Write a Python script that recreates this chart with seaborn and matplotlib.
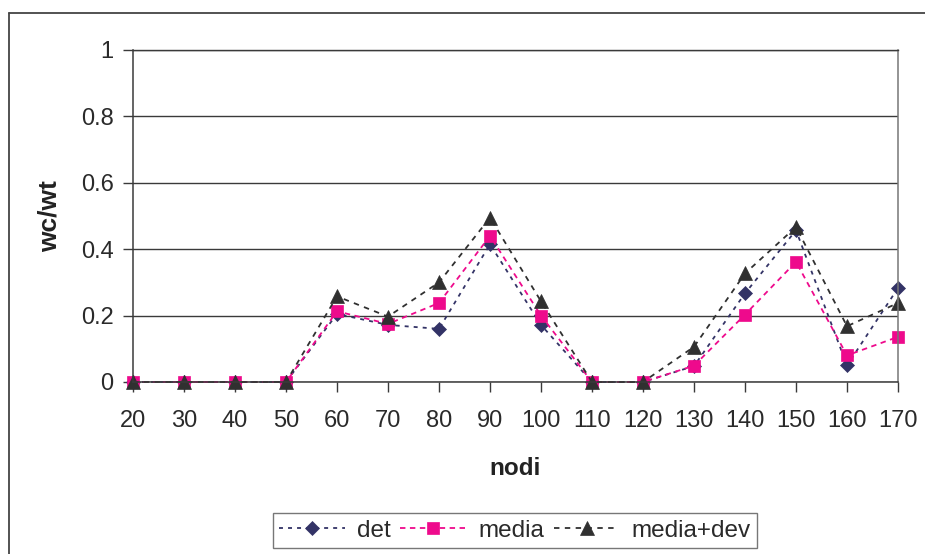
import matplotlib
matplotlib.use("Agg")
import matplotlib.pyplot as plt
from matplotlib.lines import Line2D
import seaborn as sns
import pandas as pd

# Data
nodi = [20, 30, 40, 50, 60, 70, 80, 90, 100, 110, 120, 130, 140, 150, 160, 170]
det = [0, 0, 0, 0, 0.205, 0.172, 0.160, 0.415, 0.172, 0, 0, 0.048, 0.267, 0.457, 0.050, 0.283]
media = [0, 0, 0, 0, 0.213, 0.175, 0.238, 0.440, 0.200, 0, 0, 0.049, 0.203, 0.362, 0.080, 0.136]
media_dev = [0, 0, 0, 0, 0.258, 0.197, 0.300, 0.495, 0.243, 0, 0, 0.106, 0.327, 0.467, 0.168, 0.238]
series_names = ["det", "media", "media+dev"]
y_ticks = [0, 0.2, 0.4, 0.6, 0.8, 1]
y_tick_labels = ["0", "0.2", "0.4", "0.6", "0.8", "1"]

sns.set_theme(style="white")
plt.rcParams["font.family"] = ["Liberation Sans", "DejaVu Sans"]

fig = plt.figure(figsize=(9.25, 5.54), dpi=100)
ax = fig.add_axes([133 / 925, 1 - 382 / 554, 765 / 925, 332 / 554])

styles = {
    "det": dict(color="#333366", marker="D", markersize=7.5, dashes=(2.2, 2.8)),
    "media": dict(color="#EE0A8C", marker="s", markersize=8, dashes=(3, 2.5)),
    "media+dev": dict(color="#303030", marker="^", markersize=9.5, dashes=(3, 3)),
}

for name, vals in zip(series_names, [det, media, media_dev]):
    df = pd.DataFrame({"nodi": nodi, "wc/wt": vals})
    st = styles[name]
    sns.lineplot(data=df, x="nodi", y="wc/wt", ax=ax, color=st["color"],
                 marker=st["marker"], markersize=st["markersize"],
                 markeredgecolor=st["color"], markeredgewidth=0.5,
                 linewidth=1.3, dashes=st["dashes"], label=name, clip_on=False)

ax.set_xlim(20, 170)
ax.set_ylim(0, 1)
ax.set_xticks(nodi)
ax.set_xticklabels([str(v) for v in nodi])
ax.set_yticks(y_ticks)
ax.set_yticklabels(y_tick_labels)

ax.yaxis.grid(True, color="#3a3a3a", linewidth=1.0)
ax.xaxis.grid(False)
ax.set_axisbelow(True)

for side in ["left", "bottom"]:
    ax.spines[side].set_color("#3a3a3a")
    ax.spines[side].set_linewidth(1.1)
ax.spines["right"].set_color("#777777")
ax.spines["right"].set_linewidth(1.1)
ax.spines["top"].set_color("#3a3a3a")
ax.spines["top"].set_linewidth(1.0)

ax.tick_params(axis="both", which="both", direction="out", length=7, width=1,
               color="#3a3a3a", labelsize=17, labelcolor="#2a2a2a",
               left=True, bottom=True)
ax.tick_params(axis="y", pad=7)
ax.tick_params(axis="x", pad=13)

ax.set_xlabel("nodi", fontsize=17.5, fontweight="bold", color="#222222")
ax.set_ylabel("wc/wt", fontsize=19, fontweight="bold", color="#222222")
ax.xaxis.set_label_coords(0.5, -0.225)
ax.yaxis.set_label_coords(-0.093, 0.5)

handles, labels = ax.get_legend_handles_labels()
ax.get_legend().remove()
leg = fig.legend(handles, labels, loc="center", bbox_to_anchor=(515 / 925, 1 - 530.5 / 554),
                 ncol=3, fontsize=17.5, frameon=True, fancybox=False,
                 handlelength=2.7, handletextpad=0.5, columnspacing=0.4,
                 borderpad=0.25, borderaxespad=0)
leg.get_frame().set_edgecolor("#555555")
leg.get_frame().set_linewidth(1.0)
for t in leg.get_texts():
    t.set_color("#2a2a2a")

# chart area frame (left and top edges)
fig.add_artist(Line2D([9 / 925, 9 / 925], [0, 1 - 13 / 554], transform=fig.transFigure,
                      color="#444444", linewidth=1.3))
fig.add_artist(Line2D([9 / 925, 1], [1 - 13 / 554, 1 - 13 / 554], transform=fig.transFigure,
                      color="#444444", linewidth=1.3))

fig.savefig("out.png", dpi=100)
